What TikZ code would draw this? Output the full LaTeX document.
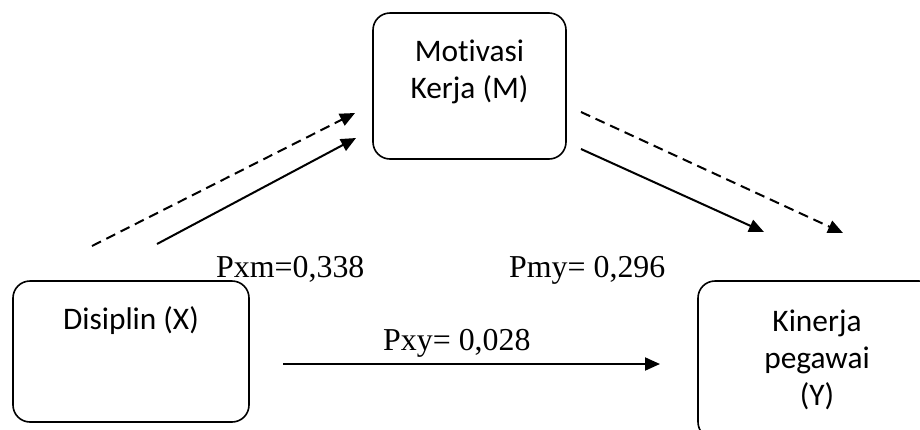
\documentclass[tikz,border=0pt]{standalone}
\usepackage{fontspec}
\setmainfont{Liberation Serif}
\newfontfamily\boxfont[Ligatures=NoCommon]{Carlito}
\usetikzlibrary{arrows.meta,positioning}
\tikzset
{
    var/.style = {rectangle, rounded corners=17bp, draw=black, line width=1.6bp, minimum width=#1},
    vartext/.style = {align=center, font=\boxfont\fontsize{31.5}{37}\selectfont, inner sep=0pt, anchor=base},
    coef/.style = {font=\fontsize{32}{32}\selectfont, inner sep=0pt, anchor=base west},
    effect/.style = {line width=2bp, -{Triangle[length=15bp,width=13bp]}},
    indirect/.style = {effect, dash pattern=on 10bp off 6bp}
}

\begin{document}
\begin{tikzpicture}[x=1bp, y=-1bp]
		\useasboundingbox (0,0) rectangle (920,429);
		\clip (0,0) rectangle (920,429);
		% boxes
		\node (M) [var=193bp, minimum height=146bp] at (469.5,86) {};
		\node (X) [var=236bp, minimum height=141bp] at (131,351.5) {};
		\node (Y) [var=238bp, minimum height=158bp] at (817,360) {};
		% base of the last line
		\node (Mtxt) [vartext] at (469.5,98) {Motivasi\\Kerja (M)};
		\node (Xtxt) [vartext] at (131,329) {Disiplin (X)};
		\node (Ytxt) [vartext] at (817,405) {Kinerja\\pegawai\\(Y)};
		
		% arrow ends
		\coordinate (xm1) at (92,246);  \coordinate (xm2) at (355,113);
		\coordinate (xm3) at (157,244); \coordinate (xm4) at (356,138);
		\coordinate (my1) at (581,112); \coordinate (my2) at (843,233);
		\coordinate (my3) at (581,149); \coordinate (my4) at (764,232);
		\coordinate (xy1) at (283,364); \coordinate (xy2) at (660,364);
		\draw[indirect] (xm1) -- (xm2);
		\draw[effect] (xm3) -- (xm4);
		\draw[indirect] (my1) -- (my2);
		\draw[effect] (my3) -- (my4);
		\draw[effect] (xy1) -- (xy2);
		
		\node (pxm) [coef] at (216,277) {Pxm=0,338};
		\node (pmy) [coef] at (509,277) {Pmy= 0,296};
		\node (pxy) [coef] at (383,350) {Pxy= 0,028};
\end{tikzpicture}
\end{document}
